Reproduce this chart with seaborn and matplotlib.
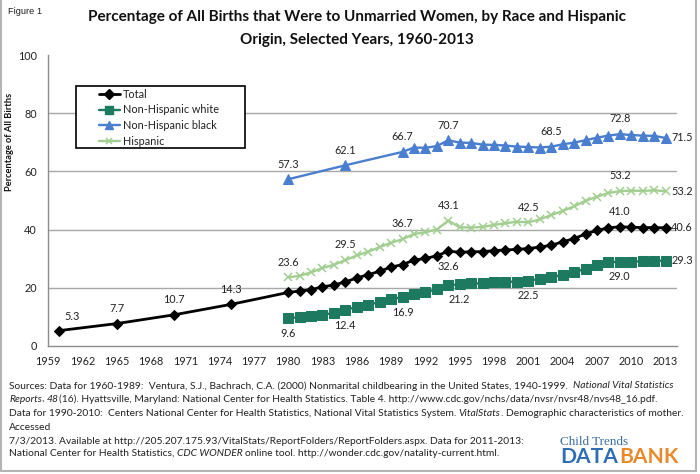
import matplotlib
matplotlib.use("Agg")
import matplotlib.pyplot as plt
import seaborn as sns
from matplotlib.ticker import MultipleLocator
from matplotlib.lines import Line2D
from matplotlib.patches import Rectangle

# ---------------- data ----------------
years_total = [1960, 1965, 1970, 1975,
               1980, 1981, 1982, 1983, 1984, 1985, 1986, 1987, 1988, 1989,
               1990, 1991, 1992, 1993, 1994, 1995, 1996, 1997, 1998, 1999,
               2000, 2001, 2002, 2003, 2004, 2005, 2006, 2007, 2008, 2009,
               2010, 2011, 2012, 2013]
total_pct = [5.3, 7.7, 10.7, 14.3,
             18.4, 18.9, 19.4, 20.3, 21.0, 22.0, 23.4, 24.5, 25.7, 27.1,
             28.0, 29.5, 30.1, 31.0, 32.6, 32.2, 32.4, 32.4, 32.8, 33.0,
             33.2, 33.5, 34.0, 34.6, 35.8, 36.9, 38.5, 39.7, 40.6, 41.0,
             40.8, 40.7, 40.7, 40.6]

years_annual = [1980, 1981, 1982, 1983, 1984, 1985, 1986, 1987, 1988, 1989,
                1990, 1991, 1992, 1993, 1994, 1995, 1996, 1997, 1998, 1999,
                2000, 2001, 2002, 2003, 2004, 2005, 2006, 2007, 2008, 2009,
                2010, 2011, 2012, 2013]
white_pct = [9.6, 9.9, 10.3, 10.8, 11.3, 12.4, 13.4, 14.2, 15.1, 16.0,
             16.9, 18.0, 18.5, 19.5, 20.8, 21.2, 21.5, 21.5, 21.9, 22.1,
             22.1, 22.5, 23.0, 23.6, 24.5, 25.3, 26.6, 27.8, 28.7, 29.0,
             29.0, 29.1, 29.3, 29.3]
hisp_pct = [23.6, 24.1, 25.3, 26.8, 27.9, 29.5, 31.1, 32.4, 34.0, 35.5,
            36.7, 38.5, 39.1, 40.0, 43.1, 40.8, 40.7, 40.9, 41.6, 42.2,
            42.7, 42.5, 43.5, 45.0, 46.4, 48.0, 49.9, 51.3, 52.6, 53.2,
            53.4, 53.3, 53.5, 53.2]

years_black = [1980, 1985,
               1990, 1991, 1992, 1993, 1994, 1995, 1996, 1997, 1998, 1999,
               2000, 2001, 2002, 2003, 2004, 2005, 2006, 2007, 2008, 2009,
               2010, 2011, 2012, 2013]
black_pct = [57.3, 62.1,
             66.7, 68.2, 68.1, 68.7, 70.7, 69.9, 69.8, 69.2, 69.1, 68.9,
             68.5, 68.4, 68.2, 68.5, 69.3, 69.9, 70.7, 71.6, 72.3, 72.8,
             72.5, 72.3, 72.2, 71.5]

series_names = ["Total", "Non-Hispanic white", "Non-Hispanic black", "Hispanic"]

# labelled points: (series index, year, position)
label_points = [
    (0, 1960, "above"), (0, 1965, "above"), (0, 1970, "above"), (0, 1975, "above"),
    (0, 1994, "below"), (0, 2009, "above"), (0, 2013, "right"),
    (1, 1980, "below"), (1, 1985, "below"), (1, 1990, "below"), (1, 1995, "below"),
    (1, 2001, "below"), (1, 2009, "below"), (1, 2013, "right"),
    (2, 1980, "above"), (2, 1985, "above"), (2, 1990, "above"), (2, 1994, "above"),
    (2, 2003, "above"), (2, 2009, "above"), (2, 2013, "right"),
    (3, 1980, "above"), (3, 1985, "above"), (3, 1990, "above"), (3, 1994, "above"),
    (3, 2001, "above"), (3, 2009, "above"), (3, 2013, "right"),
]

title_line1 = "Percentage of All Births that Were to Unmarried Women, by Race and Hispanic"
title_line2 = "Origin, Selected Years, 1960-2013"
y_label = "Percentage of All Births"

source_lines = [
    [("Sources: Data for 1960-1989:  Ventura, S.J., Bachrach, C.A. (2000) Nonmarital childbearing in the United States, 1940-1999.  ", "normal"),
     ("National Vital Statistics", "italic")],
    [("Reports", "italic"), (", ", "normal"), ("48", "italic"),
     ("(16). Hyattsville, Maryland: National Center for Health Statistics. Table 4. http://www.cdc.gov/nchs/data/nvsr/nvsr48/nvs48_16.pdf.", "normal")],
    [("Data for 1990-2010:  Centers National Center for Health Statistics, National Vital Statistics System. ", "normal"),
     ("VitalStats", "italic"), (". Demographic characteristics of mother.", "normal")],
    [("Accessed", "normal")],
    [("7/3/2013. Available at http://205.207.175.93/VitalStats/ReportFolders/ReportFolders.aspx. Data for 2011-2013:", "normal")],
    [("National Center for Health Statistics, ", "normal"), ("CDC WONDER", "italic"),
     (" online tool. http://wonder.cdc.gov/natality-current.html.", "normal")],
]

# ---------------- style ----------------
sns.set_style("white")
plt.rcParams["font.family"] = ["Lato", "DejaVu Sans"]

W, H = 700, 474
fig = plt.figure(figsize=(7, 4.74), dpi=100)
fig.patch.set_facecolor("white")
ax = fig.add_axes([48 / W, 1 - 346 / H, (677 - 48) / W, (346 - 55) / H])
ax.set_facecolor("white")

colors = ["#000000", "#1D7A60", "#4A7ECF", "#A2CE91"]
series_x = [years_total, years_annual, years_black, years_annual]
series_y = [total_pct, white_pct, black_pct, hisp_pct]

sns.lineplot(x=years_total, y=total_pct, ax=ax, color=colors[0], linewidth=2.0,
             marker="D", markersize=5, markeredgecolor=colors[0], label=series_names[0], zorder=5)
sns.lineplot(x=years_annual, y=white_pct, ax=ax, color=colors[1], linewidth=1.7,
             marker="s", markersize=6.5, markeredgecolor=colors[1], label=series_names[1], zorder=4)
sns.lineplot(x=years_black, y=black_pct, ax=ax, color=colors[2], linewidth=1.7,
             marker="^", markersize=6.5, markeredgecolor=colors[2], label=series_names[2], zorder=4)
sns.lineplot(x=years_annual, y=hisp_pct, ax=ax, color=colors[3], linewidth=1.7,
             marker="x", markersize=5.5, markeredgewidth=1.1, markeredgecolor=colors[3],
             label=series_names[3], zorder=3)

ax.set_xlim(1959, 2014)
ax.set_ylim(0, 100)
ax.xaxis.set_major_locator(MultipleLocator(3))
ax.xaxis.set_minor_locator(MultipleLocator(1))
ax.yaxis.set_major_locator(MultipleLocator(20))
ax.yaxis.set_minor_locator(MultipleLocator(10))
ax.tick_params(axis="both", which="both", direction="out", color="#8C8C8C",
               labelsize=7.8, labelcolor="#222222", width=0.8)
ax.tick_params(axis="x", which="major", length=3.5, pad=4)
ax.tick_params(axis="x", which="minor", length=3.5)
ax.tick_params(axis="y", which="major", length=3, pad=5)
ax.tick_params(axis="y", which="minor", length=2.5)
ax.set_xlabel("")
ax.set_ylabel("")
for s in ["top", "right"]:
    ax.spines[s].set_visible(False)
for s in ["left", "bottom"]:
    ax.spines[s].set_color("#8C8C8C")
    ax.spines[s].set_linewidth(1.0)
for yv in [20, 40, 60, 80]:
    ax.axhline(yv, color="#A8A8A8", linewidth=1.0, zorder=0)

# data labels
for si, yr, pos in label_points:
    xs, ys = series_x[si], series_y[si]
    val = ys[xs.index(yr)]
    txt = f"{val:.1f}"
    if pos == "above":
        off, ha, va = (0, 7), "center", "bottom"
    elif pos == "below":
        off, ha, va = (0, -7), "center", "top"
    else:
        off, ha, va = (4, 0), "left", "center"
    if si == 0 and yr == 1960:
        off = (9, 6)
    ax.annotate(txt, (yr, val), xytext=off, textcoords="offset points",
                ha=ha, va=va, fontsize=7.8, color="#222222", zorder=6)

# legend
if ax.get_legend():
    ax.get_legend().remove()
handles = [Line2D([], [], color=colors[0], lw=2.0, marker="D", markersize=5),
           Line2D([], [], color=colors[1], lw=1.7, marker="s", markersize=5.5),
           Line2D([], [], color=colors[2], lw=1.7, marker="^", markersize=5.5),
           Line2D([], [], color=colors[3], lw=1.7, marker="x", markersize=5, markeredgewidth=1.1)]
frame = Rectangle((76 / W, 1 - 148 / H), (245 - 76) / W, (148 - 86) / H,
                  transform=fig.transFigure, facecolor="white", edgecolor="black",
                  linewidth=1.2, zorder=2)
fig.patches.append(frame)
leg = fig.legend(handles, series_names, loc="upper left",
                 bbox_to_anchor=(99 / W, 1 - 88.5 / H), bbox_transform=fig.transFigure,
                 frameon=False, fontsize=7.8, borderpad=0, borderaxespad=0,
                 handlelength=1.9, handletextpad=0.3, labelspacing=0.45)
leg.set_zorder(3)
for t in leg.get_texts():
    t.set_color("#222222")

renderer = fig.canvas.get_renderer()


def fit(t, target):
    w = t.get_window_extent(renderer).width
    t.set_fontsize(t.get_fontsize() * target / w)


# titles
t1 = fig.text(357 / W, 1 - 17 / H, title_line1, ha="center", va="center",
              fontsize=12, fontweight="bold", color="#111111")
fit(t1, 624 - 90)
t2 = fig.text(357 / W, 1 - 40 / H, title_line2, ha="center", va="center",
              fontsize=t1.get_fontsize(), fontweight="bold", color="#111111")
tf = fig.text(8 / W, 1 - 12 / H, "Figure 1", ha="left", va="center", fontsize=7,
              family=["Liberation Sans", "DejaVu Sans"], color="#222222")
fit(tf, 34)
ty = fig.text(10 / W, 1 - 142 / H, y_label, ha="center", va="center", rotation=90,
              fontsize=7, fontweight="bold", color="#111111")
ty.set_fontsize(ty.get_fontsize() * 99 / ty.get_window_extent(renderer).height)


# source text with mixed italics
def measure(s, size, style="normal"):
    t = fig.text(0, 0, s, fontsize=size, style=style)
    w = t.get_window_extent(renderer).width
    t.remove()
    return w


def draw_rich(x0, y, pieces, size):
    texts = []
    x = x0
    for txt, style in pieces:
        sp = measure("a a", size, style) - measure("aa", size, style)
        lead = len(txt) - len(txt.lstrip(" "))
        trail = len(txt) - len(txt.rstrip(" "))
        x += lead * sp
        core = txt.strip(" ")
        t = fig.text(x / W, 1 - y / H, core, fontsize=size, style=style,
                     ha="left", va="center", color="#222222")
        texts.append(t)
        x = t.get_window_extent(renderer).x1 + trail * sp
    return texts, x


src_y = [386, 399.5, 413, 427, 441, 453.5]
probe, endx = draw_rich(9, src_y[0], source_lines[0], 7)
for t in probe:
    t.remove()
src_size = 7 * (678 - 9) / (endx - 9)
for yy, pieces in zip(src_y, source_lines):
    draw_rich(9, yy, pieces, src_size)

# logo
tc = fig.text(560 / W, 1 - 442 / H, "Child Trends", ha="left", va="center",
              family=["Liberation Serif", "DejaVu Serif"], fontsize=10, color="#3C6CA6")
fit(tc, 68)
tmp = fig.text(0, 0, "DATABANK", fontsize=16, fontweight="bold")
db_size = 16 * 117 / tmp.get_window_extent(renderer).width
tmp.remove()
td = fig.text(560 / W, 1 - 457 / H, "DATA", ha="left", va="center",
              fontsize=db_size, fontweight="bold", color="#2F6DB5")
xb = td.get_window_extent(renderer).x1 + 1
fig.text(xb / W, 1 - 457 / H, "BANK", ha="left", va="center",
         fontsize=db_size, fontweight="bold", color="#E8892B")

# outer border
for xs_, ys_ in [([1, 1], [0, 471]), ([1, 696], [471, 471]), ([696, 696], [0, 471])]:
    fig.add_artist(Line2D([x / W for x in xs_], [1 - y / H for y in ys_],
                          transform=fig.transFigure, color="#B4B4B4", linewidth=1.5))

fig.savefig("out.png", dpi=100, facecolor="white")
